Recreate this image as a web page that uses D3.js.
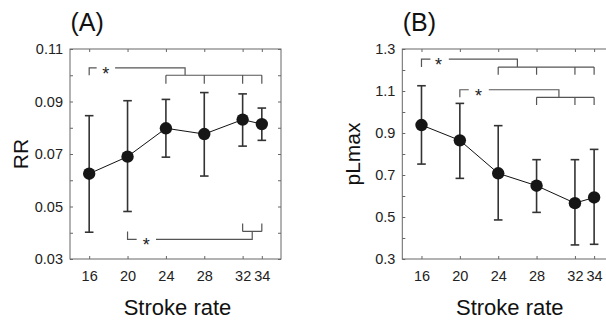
<!DOCTYPE html>
<html>
<head>
<meta charset="utf-8">
<script src="https://cdn.jsdelivr.net/npm/d3@7"></script>
<style>
	body { margin: 0; background: #fff; }
	svg { display: block; font-family: "Liberation Sans", Arial, sans-serif; }
</style>
</head>
<body>
<svg id="chart" width="606" height="324"></svg>
<script>
// stroke rates (x categories)
const strokeRates = [16, 20, 24, 28, 32, 34];

// panel A: RR
const rrMean  = [0.0625, 0.0690, 0.0798, 0.0776, 0.0831, 0.0814];
const rrUpper = [0.0846, 0.0903, 0.0908, 0.0934, 0.0929, 0.0875];
const rrLower = [0.0402, 0.0481, 0.0688, 0.0616, 0.0730, 0.0752];
const rrTicks = [0.03, 0.04, 0.05, 0.06, 0.07, 0.08, 0.09, 0.10, 0.11];
const rrLabels = ["0.03", "", "0.05", "", "0.07", "", "0.09", "", "0.11"];

// panel B: pLmax
const plMean  = [0.938, 0.865, 0.708, 0.649, 0.566, 0.593];
const plUpper = [1.125, 1.041, 0.935, 0.773, 0.773, 0.822];
const plLower = [0.752, 0.684, 0.486, 0.522, 0.367, 0.370];
const plTicks = [0.3, 0.4, 0.5, 0.6, 0.7, 0.8, 0.9, 1.0, 1.1, 1.2, 1.3];
const plLabels = ["0.3", "", "0.5", "", "0.7", "", "0.9", "", "1.1", "", "1.3"];

// significance brackets: left point vs group, merge point, levels, star position
const rrBrackets = [
	{left: 16, group: [24, 28, 32, 34], merge: 26, top: 0.1028, mid: 0.1000, leg: 0.0968, gap: [16.78, 18.70], star: 17.72},
	{left: 20, group: [32, 34], merge: 33, top: 0.0375, mid: 0.0405, leg: 0.0435, gap: [20.95, 22.97], star: 21.95}
];
const plBrackets = [
	{left: 16, group: [24, 28, 32, 34], merge: 26, top: 1.252, mid: 1.214, leg: 1.177, gap: [16.93, 18.85], star: 17.78},
	{left: 20, group: [28, 32, 34], merge: 30.33, top: 1.106, mid: 1.070, leg: 1.033, gap: [20.93, 23.02], star: 21.95}
];

const svg = d3.select("#chart");

function drawPanel(opt){
	let x = d3.scaleLinear().domain([14, 36]).range([opt.left, opt.left + 211]);
	let y = d3.scaleLinear().domain(opt.yDomain).range([259, 49]);
	let g = svg.append("g");

	// frame
	g.append("rect")
		.attr("x", x.range()[0]).attr("y", 49)
		.attr("width", 211).attr("height", 210)
		.attr("fill", "none").attr("stroke", "#666").attr("stroke-width", 1);

	let fmt = (d, i) => opt.labels[i];
	let axes = [
		g.append("g").attr("transform", `translate(${x.range()[0]},0)`)
			.call(d3.axisLeft(y).tickValues(opt.ticks).tickFormat(fmt).tickSize(-3).tickPadding(7)),
		g.append("g").attr("transform", `translate(${x.range()[1]},0)`)
			.call(d3.axisRight(y).tickValues(opt.ticks).tickFormat("").tickSize(-3)),
		g.append("g").attr("transform", "translate(0,259)")
			.call(d3.axisBottom(x).tickValues(strokeRates).tickFormat(d3.format("d")).tickSize(-3).tickPadding(12)),
		g.append("g").attr("transform", "translate(0,49)")
			.call(d3.axisTop(x).tickValues(strokeRates).tickFormat("").tickSize(-3))
	];
	for (let a of axes){
		a.select(".domain").remove();
		a.selectAll("line").attr("stroke", "#666");
		a.selectAll("text").attr("fill", "#222").style("font-size", "14.5px").style("font-family", "inherit");
	}

	// error bars
	let eb = g.append("g").attr("stroke", "#333").attr("stroke-width", 1.6);
	strokeRates.forEach((s, i) => {
		eb.append("line").attr("x1", x(s)).attr("x2", x(s))
			.attr("y1", y(opt.upper[i])).attr("y2", y(opt.lower[i]));
		for (let v of [opt.upper[i], opt.lower[i]])
			eb.append("line").attr("x1", x(s) - 4.3).attr("x2", x(s) + 4.3)
				.attr("y1", y(v)).attr("y2", y(v));
	});

	// mean line + markers
	let line = d3.line().x((d, i) => x(strokeRates[i])).y(d => y(d));
	g.append("path").attr("d", line(opt.mean))
		.attr("fill", "none").attr("stroke", "#111").attr("stroke-width", 1);
	g.selectAll("circle.m").data(opt.mean).join("circle")
		.attr("cx", (d, i) => x(strokeRates[i])).attr("cy", d => y(d))
		.attr("r", 6.2).attr("fill", "#161616");

	// significance brackets
	let bg = g.append("g").attr("stroke", "#555").attr("stroke-width", 1.2).attr("fill", "none");
	for (let b of opt.brackets){
		let p = d3.path();
		p.moveTo(x(b.left), y(b.mid)); p.lineTo(x(b.left), y(b.top)); p.lineTo(x(b.gap[0]), y(b.top));
		p.moveTo(x(b.gap[1]), y(b.top)); p.lineTo(x(b.merge), y(b.top)); p.lineTo(x(b.merge), y(b.mid));
		let g0 = b.group[0], g1 = b.group[b.group.length - 1];
		p.moveTo(x(g0), y(b.mid)); p.lineTo(x(g1), y(b.mid));
		for (let s of b.group){ p.moveTo(x(s), y(b.mid)); p.lineTo(x(s), y(b.leg)); }
		bg.append("path").attr("d", p.toString());
		g.append("text").attr("x", x(b.star)).attr("y", y(b.top) + 1.3 + 10.5)
			.attr("text-anchor", "middle").attr("fill", "#222")
			.style("font-size", "18px").text("*");
	}

	// titles
	g.append("text").attr("x", x.range()[0] + 0.5).attr("y", 31)
		.attr("fill", "#111").style("font-size", "25px").text(opt.panel);
	g.append("text").attr("x", (x(14) + x.range()[1]) / 2 + 2).attr("y", 315)
		.attr("text-anchor", "middle").attr("fill", "#111").style("font-size", "22px").text("Stroke rate");
	g.append("text")
		.attr("transform", `translate(${x.range()[0] - 42.5},154) rotate(-90)`)
		.attr("text-anchor", "middle").attr("fill", "#111").style("font-size", "21px").text(opt.ylabel);
}

drawPanel({left: 70, yDomain: [0.03, 0.11], ticks: rrTicks, labels: rrLabels,
	mean: rrMean, upper: rrUpper, lower: rrLower, brackets: rrBrackets, panel: "(A)", ylabel: "RR"});
drawPanel({left: 402.3, yDomain: [0.3, 1.3], ticks: plTicks, labels: plLabels,
	mean: plMean, upper: plUpper, lower: plLower, brackets: plBrackets, panel: "(B)", ylabel: "pLmax"});
</script>
</body>
</html>
